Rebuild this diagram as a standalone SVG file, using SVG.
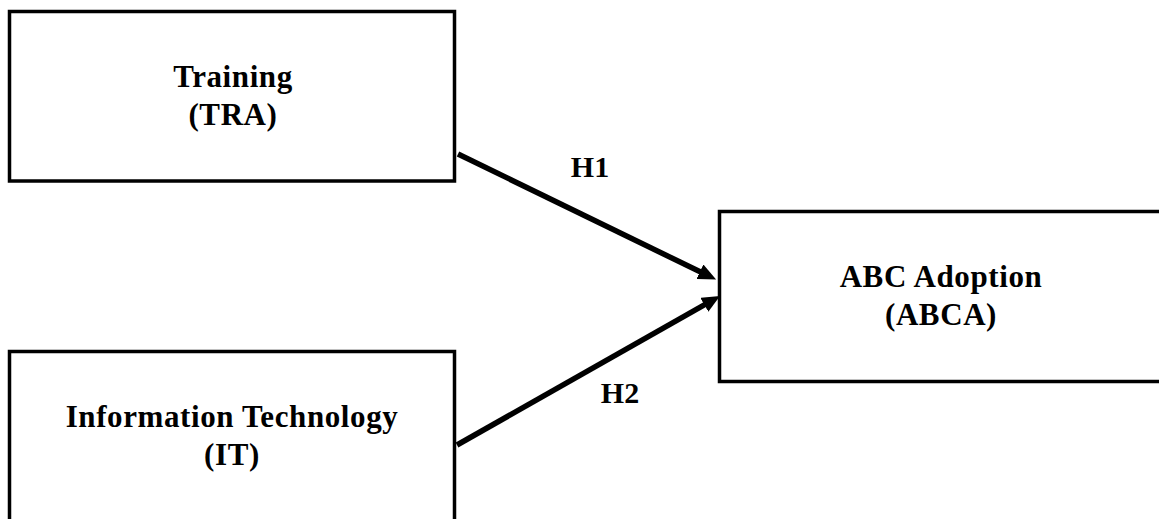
<svg xmlns="http://www.w3.org/2000/svg" width="1159" height="519" viewBox="0 0 1159 519">
  <style>
    .box { fill: #ffffff; stroke: #000000; stroke-width: 3.5; }
    .lbl { font-family: "Liberation Serif", "Times New Roman", serif; font-weight: bold; font-size: 31px; letter-spacing: 0.6px; fill: #000000; text-anchor: middle; }
    .hyp { font-family: "Liberation Serif", "Times New Roman", serif; font-weight: bold; font-size: 30px; fill: #000000; text-anchor: middle; }
    .conn { stroke: #000000; stroke-width: 5.5; fill: none; marker-end: url(#arrow); }
  </style>
  <defs>
    <marker id="arrow" markerUnits="userSpaceOnUse" markerWidth="20" markerHeight="16" refX="6" refY="8" orient="auto" viewBox="0 0 20 16">
      <path d="M0,0 L18,8 L0,16 Z" fill="#000000"/>
    </marker>
  </defs>
  <rect width="1159" height="519" fill="#ffffff"/>
  <g id="node-tra">
    <rect class="box" x="9.5" y="11.5" width="445" height="169.5"/>
    <text class="lbl" x="233" y="87">Training</text>
    <text class="lbl" x="233" y="125">(TRA)</text>
  </g>
  <g id="node-it">
    <rect class="box" x="9.5" y="351.5" width="445" height="180"/>
    <text class="lbl" x="232" y="427">Information Technology</text>
    <text class="lbl" x="232" y="465">(IT)</text>
  </g>
  <g id="node-abca">
    <rect class="box" x="719.5" y="211.5" width="450" height="170"/>
    <text class="lbl" x="941" y="287">ABC Adoption</text>
    <text class="lbl" x="941" y="325">(ABCA)</text>
  </g>
  <g id="connectors">
    <line class="conn" x1="458" y1="154" x2="705.3" y2="274.3"/>
    <line class="conn" x1="457" y1="445" x2="709.6" y2="301.9"/>
    <text class="hyp" x="590" y="177">H1</text>
    <text class="hyp" x="620" y="403">H2</text>
  </g>
</svg>
